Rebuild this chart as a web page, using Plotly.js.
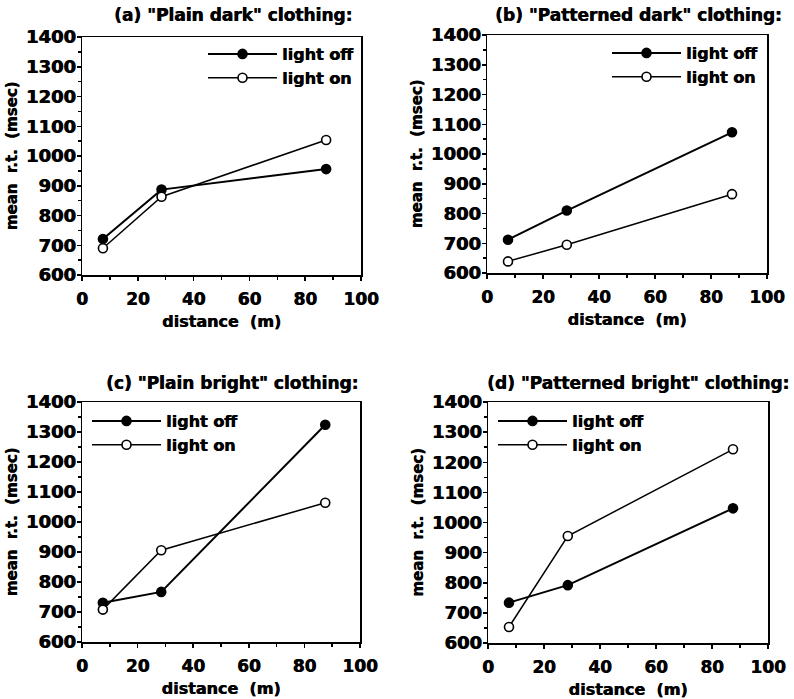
<!DOCTYPE html>
<html>
<head>
<meta charset="utf-8">
<script src="https://cdn.plot.ly/plotly-3.0.1.min.js"></script>
<style>html,body{margin:0;padding:0;background:#fff;}#chart{width:794px;height:699px;}</style>
</head>
<body>
<div id="chart"></div>
<script>
// ---- data ----
const distances = [7.5, 28.5, 87.5];
const panelTitles = [
  '(a) "Plain dark" clothing:',
  '(b) "Patterned dark" clothing:',
  '(c) "Plain bright" clothing:',
  '(d) "Patterned bright" clothing:'
];
const seriesNames = ['light off', 'light on'];
const lightOffA = [721, 887, 956];
const lightOnA  = [690, 863, 1054];
const lightOffB = [712, 810, 1073];
const lightOnB  = [639, 695, 865];
const lightOffC = [731, 767, 1324];
const lightOnC  = [708, 906, 1064];
const lightOffD = [734, 792, 1047];
const lightOnD  = [653, 955, 1243];
const xTickVals = [0, 20, 40, 60, 80, 100];
const yTickVals = [600, 700, 800, 900, 1000, 1100, 1200, 1300, 1400];
const xAxisTitle = 'distance \u00a0(m)';
const yAxisTitle = 'mean \u00a0r.t. \u00a0(msec)';

// ---- layout helpers ----
const W = 794, H = 699;
const FONT = 'DejaVu Sans';
const SHADOW = '0.6px 0 0 #000';
const NB = '\u00a0';
const panels = [
  {off: lightOffA, on: lightOnA, box: [82, 361, 37, 275], leg: [203, 37], title: [233, 15], pad: 5},
  {off: lightOffB, on: lightOnB, box: [487, 767, 35, 273], leg: [607, 36], title: [638, 15], pad: 5},
  {off: lightOffC, on: lightOnC, box: [82, 360, 402, 642], leg: [87, 404], title: [232, 383], pad: 0},
  {off: lightOffD, on: lightOnD, box: [488, 768, 402, 643], leg: [493, 404], title: [638, 383], pad: 3}
];

const traces = [];
const layout = {
  width: W, height: H,
  margin: {l: 0, r: 0, t: 0, b: 0},
  paper_bgcolor: '#fff', plot_bgcolor: '#fff',
  font: {family: FONT, color: '#000', weight: 'bold'},
  showlegend: true,
  annotations: []
};

panels.forEach((p, i) => {
  const n = i + 1;
  const xa = 'xaxis' + (n === 1 ? '' : n), ya = 'yaxis' + (n === 1 ? '' : n);
  const xr = 'x' + (n === 1 ? '' : n), yr = 'y' + (n === 1 ? '' : n);
  const lg = 'legend' + (n === 1 ? '' : n);
  [[p.off, seriesNames[0], true], [p.on, seriesNames[1], false]].forEach(([vals, name, filled]) => {
    traces.push({
      type: 'scatter', mode: 'lines+markers',
      x: distances, y: vals, name: name,
      xaxis: xr, yaxis: yr, legend: lg,
      line: {color: '#000', width: filled ? 2 : 1.5},
      marker: {symbol: 'circle', size: 9, color: filled ? '#000' : '#fff', line: {color: '#000', width: 1.6}},
      cliponaxis: false
    });
  });
  const [x0, x1, y0, y1] = p.box;
  layout[xa] = {
    domain: [x0 / W, x1 / W], anchor: yr, range: [0, 100],
    showline: true, mirror: true, linecolor: '#000', linewidth: 1.5,
    showgrid: false, zeroline: false,
    ticks: 'outside', ticklen: 4, tickwidth: 1.5, tickcolor: '#000',
    tickvals: xTickVals, ticktext: xTickVals.map(String),
    minor: {dtick: 10, tick0: 0, ticks: 'outside', ticklen: 3, tickwidth: 1.5, tickcolor: '#000', showgrid: false},
    tickfont: {family: FONT, size: 17, weight: 'bold', shadow: SHADOW},
    ticklabelstandoff: 4,
    title: {text: xAxisTitle, font: {family: FONT, size: 16, weight: 'bold', shadow: SHADOW}, standoff: 8},
    fixedrange: true
  };
  layout[ya] = {
    domain: [1 - y1 / H, 1 - y0 / H], anchor: xr, range: [600, 1400],
    showline: true, mirror: true, linecolor: '#000', linewidth: 1.5,
    showgrid: false, zeroline: false,
    ticks: 'outside', ticklen: 4, tickwidth: 1.5, tickcolor: '#000',
    tickvals: yTickVals, ticktext: yTickVals.map(String),
    minor: {dtick: 50, tick0: 0, ticks: 'outside', ticklen: 3, tickwidth: 1.5, tickcolor: '#000', showgrid: false},
    tickfont: {family: FONT, size: 18, weight: 'bold', shadow: SHADOW},
    ticklabelstandoff: -3,
    title: {text: yAxisTitle + NB.repeat(p.pad), font: {family: FONT, size: 15, weight: 'bold', shadow: SHADOW}, standoff: 4},
    fixedrange: true
  };
  layout[lg] = {
    x: p.leg[0] / W, y: 1 - p.leg[1] / H, xanchor: 'left', yanchor: 'top',
    xref: 'paper', yref: 'paper',
    bgcolor: 'rgba(0,0,0,0)', borderwidth: 0,
    font: {family: FONT, size: 16, weight: 'bold', color: '#000', shadow: SHADOW},
    itemwidth: 69, tracegroupgap: 0
  };
  layout.annotations.push({
    xref: 'paper', yref: 'paper', x: p.title[0] / W, y: 1 - p.title[1] / H,
    xanchor: 'center', yanchor: 'middle', showarrow: false,
    text: panelTitles[i], font: {family: FONT, size: 17, weight: 'bold', color: '#000', shadow: SHADOW}
  });
});

Plotly.newPlot('chart', traces, layout, {displayModeBar: false, staticPlot: true});
</script>
</body>
</html>
